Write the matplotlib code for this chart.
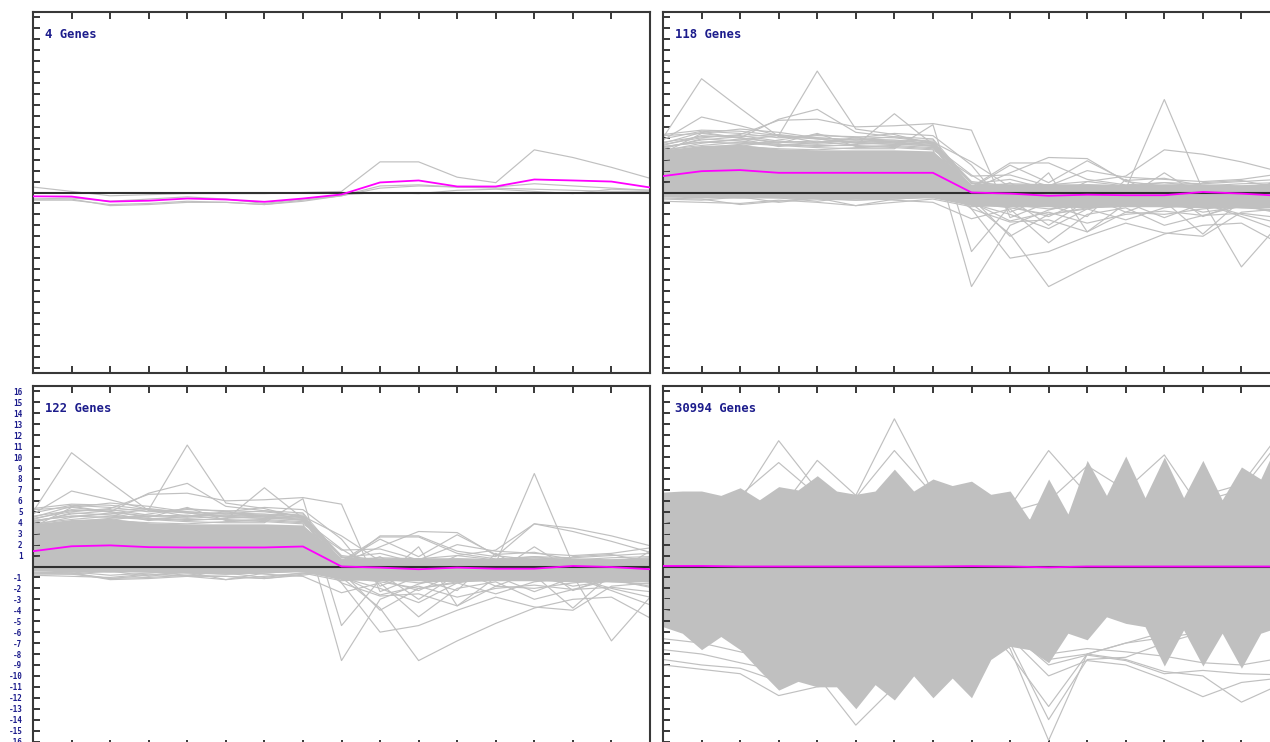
import numpy as np
import matplotlib.pyplot as plt

steps = np.arange(17)
half_steps = np.arange(33) / 2

titles = ["4 Genes", "118 Genes", "122 Genes", "30994 Genes"]

# cluster of 4 genes
genes_4 = [
    [0.5, 0.1, -0.3, -0.2, -0.1, -0.1, -0.1, 0.0, 0.1, 2.8, 2.8, 1.4, 0.9, 3.9, 3.2, 2.3, 1.3],
    [-0.6, -0.6, -1.2, -1.1, -0.9, -0.9, -1.1, -0.8, -0.3, 0.6, 0.7, 0.5, 0.5, 0.8, 0.6, 0.4, 0.2],
    [-0.7, -0.7, -1.1, -1.0, -0.8, -0.9, -1.1, -0.7, -0.3, 0.4, 0.6, 0.5, 0.4, 0.3, 0.2, 0.1, 0.1],
    [-0.6, -0.5, -0.8, -0.6, -0.4, -0.6, -1.0, -0.6, -0.2, 0.0, -0.1, 0.2, 0.3, 0.1, -0.1, 0.3, 0.2],
]
mean_4 = [-0.35, -0.37, -0.83, -0.75, -0.55, -0.64, -0.85, -0.55, -0.18, 0.92, 1.1,
          0.55, 0.55, 1.19, 1.1, 1.0, 0.46]

# cluster of 118 genes: dense core plus the individual profiles that stand out
genes_118 = [
    [5.0, 10.4, 7.7, 5.1, 4.9, 4.6, 4.4, 4.3, 0.9, 0.4, 0.2, 0.3, 0.1, 0.4, 0.3, 0.2, 0.3],
    [4.2, 4.6, 4.8, 5.2, 11.1, 5.8, 5.3, 4.4, 0.5, 0.3, 0.1, 0.2, 0.4, 0.3, 0.1, 0.0, 0.2],
    [4.8, 6.9, 6.1, 5.2, 5.0, 4.8, 4.7, 4.5, 0.6, 0.2, 0.3, 0.1, 0.2, 0.5, 0.3, 0.2, 0.1],
    [3.6, 5.4, 5.0, 6.7, 7.6, 5.5, 5.1, 4.6, 0.8, 0.5, 0.6, 0.4, 0.3, 0.6, 0.4, 0.5, 0.6],
    [4.0, 4.9, 4.7, 4.4, 4.3, 4.3, 7.2, 4.4, 0.3, 0.1, 0.0, 0.2, 0.1, 0.3, 0.2, 0.0, 0.1],
    [4.4, 5.0, 5.3, 6.6, 6.7, 6.0, 6.1, 6.3, 5.7, -2.3, -0.9, -0.3, -0.5, -0.2, -0.6, -0.4, -0.3],
    [3.3, 3.9, 4.2, 4.0, 3.9, 4.1, 4.2, 4.0, -8.6, -3.0, -1.6, -0.8, -0.6, -0.5, -0.9, -0.8, -0.7],
    [4.2, 4.6, 4.5, 4.3, 4.1, 4.0, 4.0, 6.2, -5.4, -1.2, -2.2, -0.6, -0.4, -0.3, -0.5, -0.6, -0.4],
    [-0.3, -0.4, -0.5, -0.4, -0.6, -0.7, -0.5, -0.3, -1.0, -3.8, -8.6, -6.8, -5.2, -3.8, -3.0, -2.8, -4.7],
    [1.2, 1.5, 1.4, 1.3, 1.1, 1.2, 1.0, 1.1, -1.5, -6.0, -5.4, -4.0, -2.8, -3.7, -4.0, -1.8, -1.5],
    [0.8, 1.0, 1.1, 0.9, 1.0, 0.8, 0.9, 1.0, -1.0, -1.4, -2.0, -1.5, -1.0, -1.2, -0.8, -6.8, -2.8],
    [2.0, 2.2, 2.1, 2.0, 2.1, 2.0, 1.9, 2.0, 0.2, 0.0, -0.2, 0.1, 0.3, 8.5, 0.2, -0.3, -0.2],
    [2.5, 2.8, 2.7, 2.6, 2.5, 2.6, 2.4, 2.5, 0.6, 0.8, 0.7, 1.0, 1.5, 3.9, 3.5, 2.8, 1.9],
    [1.5, 1.8, 1.9, 1.7, 1.8, 1.6, 1.7, 1.8, 0.3, 1.8, 3.2, 3.1, 1.0, 0.6, 0.4, 0.5, 0.7],
    [2.2, 2.4, 2.6, 2.3, 2.2, 2.4, 2.3, 2.2, 0.5, 2.7, 2.7, 1.2, 0.7, 0.9, 0.8, 1.0, 1.2],
    [3.0, 3.3, 3.2, 3.1, 3.0, 3.2, 3.1, 3.0, -1.5, -2.7, -2.5, -3.6, -1.8, -2.0, -1.5, -1.2, -1.8],
    [-0.8, -0.9, -1.0, -0.7, -0.9, -1.2, -0.9, -0.6, -1.3, -1.1, -1.5, -1.2, -1.0, -1.3, -1.1, -1.4, -1.6],
    [-0.5, -0.6, -1.1, -0.8, -0.5, -0.7, -0.6, -0.4, -0.8, -0.6, -0.9, -0.7, -0.6, -0.9, -0.7, -0.8, -1.0],
    [4.9, 5.6, 5.4, 5.0, 5.2, 5.1, 5.0, 4.6, 1.0, 0.6, 0.5, 0.7, 0.6, 0.9, 0.5, 0.6, 0.8],
    [5.3, 5.7, 5.6, 5.2, 4.6, 5.0, 5.4, 5.2, 2.5, -1.8, -0.4, 0.2, -0.2, 0.1, 0.0, -0.3, -0.1],
    [4.5, 5.5, 5.0, 4.5, 5.4, 4.2, 4.3, 4.1, 0.4, 2.5, 0.9, 2.9, 1.1, 1.3, 0.6, 0.8, 0.9],
    [3.8, 4.5, 4.9, 4.2, 4.6, 4.7, 4.5, 4.2, 0.2, -1.2, 1.8, -3.6, -1.0, -0.8, -1.8, -1.3, -0.9],
    [4.6, 5.1, 5.2, 4.7, 4.5, 4.9, 4.8, 4.5, -0.5, -4.0, -2.0, -1.4, -0.9, -2.3, -1.0, -2.0, -2.8],
    [3.5, 4.0, 4.2, 4.8, 5.3, 5.0, 4.6, 4.3, 1.6, -0.6, -3.0, -0.7, -0.5, 1.8, -0.4, -0.6, -0.5],
    [2.8, 3.2, 3.4, 3.3, 3.0, 3.1, 3.3, 3.5, -0.3, 0.9, -1.2, -2.2, 1.2, -0.8, -3.8, -0.7, 1.4],
    [4.3, 5.2, 5.0, 4.6, 4.4, 4.6, 4.7, 4.8, 0.2, -0.5, -1.0, -0.3, -1.8, -0.5, -0.7, -1.1, -0.6],
    [5.2, 5.4, 5.8, 5.5, 5.0, 4.8, 5.1, 4.9, 0.8, 1.2, 0.3, -0.9, 0.2, 0.4, -2.2, -0.9, -0.4],
    [4.1, 4.8, 5.1, 5.3, 4.9, 4.5, 4.4, 4.6, 2.8, 0.5, -0.6, 1.0, 0.6, -0.5, 0.9, 1.1, 0.4],
    [3.9, 4.3, 4.6, 4.4, 4.2, 4.4, 4.6, 4.4, -1.0, -2.0, -3.3, -1.5, -2.5, -1.4, -1.0, -2.2, -3.5],
    [-0.3, -0.2, -0.4, -0.9, -0.5, -1.2, -0.6, -0.4, -0.9, -2.6, -1.8, -2.8, -2.0, -1.7, -2.1, -1.9, -2.3],
    [-0.6, -0.7, -0.4, -0.5, -0.8, -0.4, -0.7, -0.9, -2.4, -1.5, -4.6, -2.0, -1.4, -3.0, -2.1, -1.2, -1.9],
    [3.4, 4.1, 4.4, 4.6, 4.7, 4.3, 4.1, 3.9, 1.5, 1.6, 0.6, 2.0, 1.4, 1.2, 1.0, 1.2, 1.7],
]
core_118_hi = [3.9, 4.3, 4.4, 4.0, 3.9, 3.9, 3.9, 3.8, 0.7, 0.8, 0.8, 0.8, 0.7, 0.8, 0.8, 0.7, 0.8]
core_118_lo = [-0.4, -0.5, -0.5, -0.5, -0.6, -0.6, -0.5, -0.5, -1.2, -1.3, -1.3, -1.4, -1.3, -1.3,
               -1.4, -1.4, -1.4]
mean_118 = [1.5, 1.95, 2.05, 1.8, 1.8, 1.8, 1.8, 1.8, 0.0, -0.1, -0.3, -0.2, -0.25, -0.25, 0.05,
            -0.1, -0.3]
mean_122 = [1.4, 1.85, 1.93, 1.77, 1.74, 1.74, 1.74, 1.83, 0.0, -0.1, -0.25, -0.1, -0.2, -0.2, 0.05,
            -0.05, -0.25]

# all 30994 genes: envelope of the profiles (read every half step) and the extreme ones
all_hi = [6.8, 6.9, 6.9, 6.5, 7.2, 6.1, 7.3, 7.0, 8.3, 6.9, 6.6, 6.9, 8.9, 6.9, 8.0, 7.4, 7.8,
          6.6, 6.9, 4.3, 8.0, 4.8, 9.7, 6.5, 10.1, 6.3, 10.0, 6.3, 9.7, 6.1, 9.1, 8.0, 11.8]
all_lo = [-5.5, -6.1, -7.6, -6.4, -7.6, -9.5, -11.3, -10.5, -11.0, -11.0, -13.0, -10.8, -12.2,
          -10.0, -12.0, -10.2, -12.0, -8.5, -7.3, -7.6, -8.8, -6.1, -6.7, -4.6, -5.2, -5.5, -9.1,
          -5.8, -9.1, -6.1, -9.3, -6.1, -5.5]
all_extremes = [
    [3.0, 3.5, 6.0, 11.5, 7.0, 4.0, 3.5, 3.0, 2.5, 2.0, 2.5, 3.0, 2.0, 2.5, 3.0, 2.0, 2.5],
    [4.0, 4.5, 6.5, 9.5, 6.5, 5.0, 4.5, 4.0, 3.5, 3.0, 3.5, 4.0, 3.0, 3.5, 4.0, 3.0, 3.5],
    [3.5, 4.0, 4.5, 5.0, 9.7, 6.5, 5.0, 4.0, 3.5, 3.0, 3.5, 3.0, 3.5, 4.0, 3.5, 3.0, 3.5],
    [3.5, 4.0, 4.5, 5.0, 5.5, 6.5, 13.5, 6.8, 5.0, 4.0, 3.5, 3.0, 3.5, 4.0, 3.5, 3.0, 3.5],
    [4.5, 5.0, 5.0, 5.5, 6.0, 6.3, 10.6, 6.6, 5.5, 4.5, 4.0, 3.5, 4.0, 4.5, 4.0, 3.5, 4.0],
    [3.0, 3.5, 3.0, 3.5, 3.0, 3.5, 3.0, 3.5, 4.0, 5.5, 10.6, 6.6, 3.0, 3.5, 3.0, 3.5, 3.0],
    [3.0, 3.5, 3.0, 3.5, 3.0, 3.5, 3.0, 3.5, 4.0, 5.0, 6.0, 9.2, 7.0, 10.2, 5.0, 4.0, 3.5],
    [3.0, 3.5, 3.0, 3.5, 3.0, 3.5, 3.0, 3.5, 3.0, 3.5, 3.0, 4.0, 5.0, 5.5, 6.5, 7.5, 12.2],
    [3.0, 3.5, 3.0, 3.5, 3.0, 3.5, 3.0, 3.5, 3.0, 3.5, 3.0, 4.0, 4.5, 5.0, 6.0, 7.0, 11.5],
    [-6.6, -7.0, -7.8, -8.5, -8.0, -7.0, -6.0, -5.0, -4.5, -4.0, -4.5, -4.0, -3.5, -4.0, -3.5, -4.0, -3.5],
    [-7.6, -8.0, -8.8, -9.5, -8.0, -7.0, -6.0, -5.0, -4.5, -4.0, -4.5, -4.0, -3.5, -4.0, -3.5, -4.0, -3.5],
    [-8.5, -9.0, -9.3, -10.5, -9.0, -8.0, -7.0, -6.0, -5.0, -4.5, -4.0, -4.5, -4.0, -3.5, -4.0, -3.5, -4.0],
    [-9.0, -9.4, -9.8, -11.8, -11.0, -10.5, -9.5, -10.0, -9.0, -6.0, -5.0, -4.5, -4.0, -4.5, -4.0, -4.5, -4.0],
    [-4.0, -4.5, -5.0, -6.0, -10.0, -14.5, -11.0, -8.0, -6.0, -5.0, -4.5, -4.0, -4.5, -4.0, -4.5, -4.0, -4.5],
    [-3.0, -3.5, -3.0, -3.5, -3.0, -3.5, -3.0, -3.5, -4.0, -7.5, -15.9, -8.0, -7.0, -6.0, -5.5, -5.0, -4.5],
    [-3.0, -3.5, -3.0, -3.5, -3.0, -3.5, -3.0, -3.5, -4.0, -7.0, -14.0, -8.5, -8.3, -7.0, -6.0, -5.5, -5.0],
    [-3.0, -3.5, -3.0, -3.5, -3.0, -3.5, -3.0, -3.5, -4.0, -8.0, -12.8, -8.0, -7.0, -6.5, -6.0, -5.5, -5.0],
    [-3.0, -3.5, -3.0, -3.5, -3.0, -3.5, -3.0, -3.5, -4.0, -6.0, -9.0, -8.1, -8.6, -9.8, -9.5, -9.8, -9.9],
    [-3.0, -3.5, -3.0, -3.5, -3.0, -3.5, -3.0, -3.5, -4.0, -6.5, -10.0, -8.6, -9.0, -10.3, -11.9, -10.6, -10.2],
    [-3.0, -3.5, -3.0, -3.5, -3.0, -3.5, -3.0, -3.5, -4.0, -5.5, -8.5, -8.0, -8.5, -9.6, -10.0, -12.4, -10.8],
    [-3.0, -3.5, -3.0, -3.5, -3.0, -3.5, -3.0, -3.5, -4.0, -5.0, -8.0, -7.5, -7.8, -8.2, -8.8, -9.0, -8.4],
]
mean_all = [0.05, 0.05, 0.0, 0.0, 0.0, 0.0, 0.0, 0.0, 0.03, 0.0, -0.08, 0.0, 0.0, 0.0, 0.0, 0.0, 0.0]

GRAY = "#c0c0c0"
NAVY = "#1c1c8c"
AXIS = "#383838"
MONO = "DejaVu Sans Mono"

fig = plt.figure(figsize=(12.7, 7.42), dpi=100)


def make_panel(x0, y0, title, labels=False):
    ax = fig.add_axes([x0 / 1270, 1 - (y0 + 361) / 742, 617 / 1270, 361 / 742])
    ax.set_xlim(0, 16)
    ax.set_ylim(-16.5, 16.5)
    for sp in ax.spines.values():
        sp.set_color(AXIS)
        sp.set_linewidth(1.5)
    ax.set_xticks(steps)
    ax.set_yticks(np.arange(-16, 17))
    ax.tick_params(axis="x", direction="in", top=True, bottom=True, length=5, width=1.4,
                   color=AXIS, labelbottom=False)
    ax.tick_params(axis="y", direction="in", left=True, right=False, length=5, width=1.4,
                   color=AXIS, labelleft=labels, pad=7.5, labelsize=5.5, labelcolor=NAVY)
    if labels:
        ax.set_yticklabels(["" if v == 0 else str(v) for v in range(-16, 17)],
                           family=MONO, fontweight="bold")
    ax.text(12 / 617, 1 - 22 / 361, title, transform=ax.transAxes, ha="left", va="center",
            fontsize=8.8, fontweight="bold", family=MONO, color=NAVY, zorder=6)
    return ax


def finish(ax, mean):
    ax.axhline(0, color="#303030", lw=1.5, zorder=3)
    ax.plot(steps, mean, color="#ff00ff", lw=1.3, zorder=4)


def draw_profiles(ax, profiles):
    for p in profiles:
        ax.plot(steps, p, color=GRAY, lw=0.85, zorder=2)


# 4 genes
ax = make_panel(33, 12, titles[0])
draw_profiles(ax, genes_4)
finish(ax, mean_4)

# 118 genes
ax = make_panel(663, 12, titles[1])
ax.fill_between(steps, core_118_lo, core_118_hi, color=GRAY, lw=0, zorder=1)
draw_profiles(ax, genes_118)
finish(ax, mean_118)

# 122 genes = the two clusters above together
ax = make_panel(33, 386, titles[2], labels=True)
ax.fill_between(steps, core_118_lo, core_118_hi, color=GRAY, lw=0, zorder=1)
draw_profiles(ax, genes_118 + genes_4)
finish(ax, mean_122)

# every gene
ax = make_panel(663, 386, titles[3])
ax.fill_between(half_steps, all_lo, all_hi, color=GRAY, lw=0, zorder=1)
draw_profiles(ax, all_extremes)
finish(ax, mean_all)

fig.savefig("out.png", dpi=100)
